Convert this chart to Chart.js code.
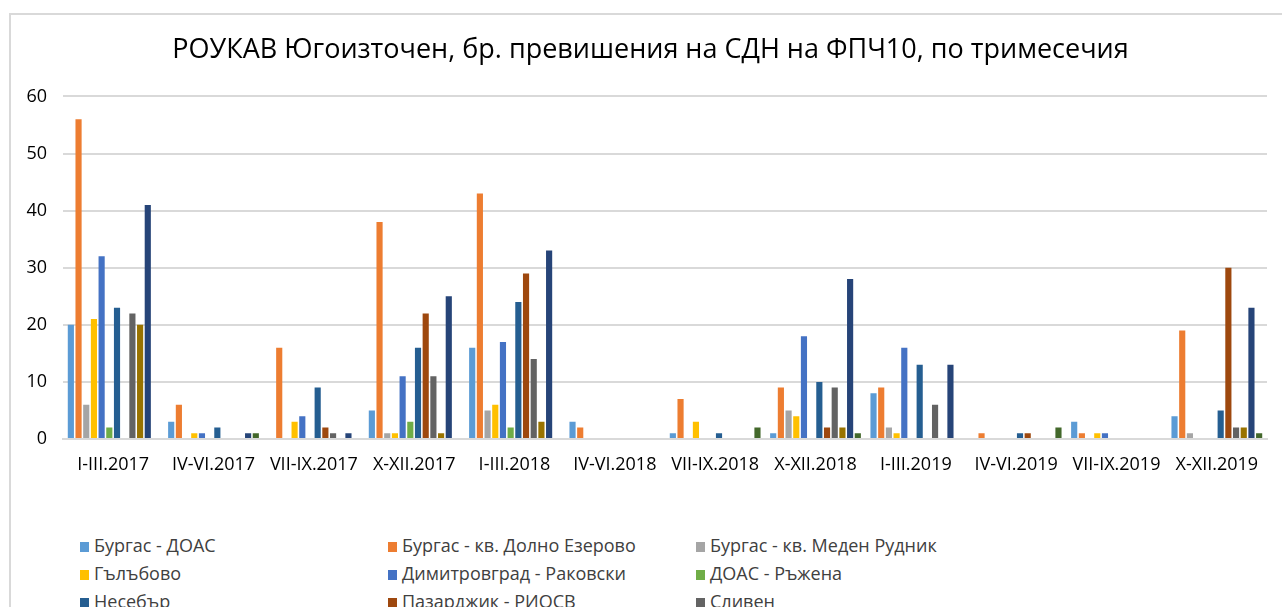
<!DOCTYPE html>
<html>
<head>
<meta charset="utf-8">
<script src="https://cdn.jsdelivr.net/npm/chart.js@4.4.0/dist/chart.umd.min.js"></script>
<style>
  body { margin: 0; background: #fff; overflow: hidden; font-family: "Open Sans", sans-serif; }
  #frame { position: absolute; left: 9px; top: 13px; width: 1400px; height: 700px; border: 2px solid #d9d9d9; }
  #wrap { position: absolute; left: 0; top: 0; width: 1282px; height: 490px; }
  #legend { position: absolute; left: 0; top: 0; }
  .item { position: absolute; font-size: 18px; color: #404040; white-space: nowrap; line-height: 20px; }
  .item span { display: inline-block; width: 9px; height: 10px; margin-right: 5px; }
</style>
</head>
<body>
<div id="frame"></div>
<div id="wrap"><canvas id="chart"></canvas></div>
<div id="legend"></div>
<script>
// кварталите по тримесечия
var quarters = ["I-III.2017", "IV-VI.2017", "VII-IX.2017", "X-XII.2017", "I-III.2018", "IV-VI.2018",
  "VII-IX.2018", "X-XII.2018", "I-III.2019", "IV-VI.2019", "VII-IX.2019", "X-XII.2019"];

var stations = ["Бургас - ДОАС", "Бургас - кв. Долно Езерово", "Бургас - кв. Меден Рудник",
  "Гълъбово", "Димитровград - Раковски", "ДОАС - Ръжена", "Несебър", "Пазарджик - РИОСВ",
  "Сливен", "Стара Загора", "Хасково", "Ямбол"];

var colors = ["#5B9BD5", "#ED7D31", "#A5A5A5", "#FFC000", "#4472C4", "#70AD47",
  "#255E91", "#9E480E", "#636363", "#997300", "#264478", "#43682B"];

// брой превишения, по станция
var burgasDoas     = [20, 3, 0, 5, 16, 3, 1, 1, 8, 0, 3, 4];
var dolnoEzerovo   = [56, 6, 16, 38, 43, 2, 7, 9, 9, 1, 1, 19];
var medenRudnik    = [6, 0, 0, 1, 5, 0, 0, 5, 2, 0, 0, 1];
var galabovo       = [21, 1, 3, 1, 6, 0, 3, 4, 1, 0, 1, 0];
var dimitrovgrad   = [32, 1, 4, 11, 17, 0, 0, 18, 16, 0, 1, 0];
var doasRazhena    = [2, 0, 0, 3, 2, 0, 0, 0, 0, 0, 0, 0];
var nesebar        = [23, 2, 9, 16, 24, 0, 1, 10, 13, 1, 0, 5];
var pazardzhik     = [0, 0, 2, 22, 29, 0, 0, 2, 0, 1, 0, 30];
var sliven         = [22, 0, 1, 11, 14, 0, 0, 9, 6, 0, 0, 2];
var staraZagora    = [20, 0, 0, 1, 3, 0, 0, 2, 0, 0, 0, 2];
var haskovo        = [41, 1, 1, 25, 33, 0, 0, 28, 13, 0, 0, 23];
var yambol         = [0, 1, 0, 0, 0, 0, 2, 1, 0, 2, 0, 1];

var series = [burgasDoas, dolnoEzerovo, medenRudnik, galabovo, dimitrovgrad, doasRazhena,
  nesebar, pazardzhik, sliven, staraZagora, haskovo, yambol];

var datasets = [];
for (let i = 0; i < series.length; i++) {
  datasets.push({
    label: stations[i],
    data: series[i],
    backgroundColor: colors[i],
    borderWidth: 0,
    categoryPercentage: 0.92,
    barPercentage: 0.8,
  });
}

// заглавието е малко вдясно от центъра на платното
const titleShift = {
  id: "titleShift",
  afterLayout(chart) {
    if (chart.titleBlock) {
      chart.titleBlock.left += 17;
      chart.titleBlock.right += 17;
    }
  },
};

const config = {
  type: "bar",
  data: { labels: quarters, datasets: datasets },
  options: {
    responsive: true,
    maintainAspectRatio: false,
    animation: false,
    layout: { padding: { left: 0, right: 15, top: 0, bottom: 0 } },
    plugins: {
      legend: { display: false },
      tooltip: { enabled: false },
      title: {
        display: true,
        text: "РОУКАВ Югоизточен, бр. превишения на СДН на ФПЧ10, по тримесечия",
        color: "#000",
        font: { family: "Open Sans", size: 27, weight: "normal" },
        padding: { top: 34, bottom: 30 },
      },
    },
    scales: {
      x: {
        grid: { display: false, drawTicks: false },
        border: { display: true, color: "#d9d9d9", width: 2 },
        ticks: { color: "#000", font: { family: "Open Sans", size: 18 }, padding: 15, maxRotation: 0 },
        afterFit: function (s) { s.height = 51; },
      },
      y: {
        min: 0,
        max: 60,
        ticks: { stepSize: 10, color: "#000", font: { family: "Open Sans", size: 18 }, padding: 16 },
        grid: { color: "#d9d9d9", lineWidth: 2, drawTicks: false },
        border: { display: false },
        afterFit: function (s) { s.width = 63; },
      },
    },
  },
  plugins: [titleShift],
};

var chart = new Chart(document.getElementById("chart"), config);

// легенда в три колони
var legend = document.getElementById("legend");
var colX = [80, 388, 696];
var rowY = [535, 563, 591, 619];
datasets.forEach(function (ds, i) {
  var d = document.createElement("div");
  d.className = "item";
  d.style.left = colX[i % 3] + "px";
  d.style.top = rowY[Math.floor(i / 3)] + "px";
  d.innerHTML = '<span style="background:' + ds.backgroundColor + '"></span>' + ds.label;
  legend.appendChild(d);
});
</script>
</body>
</html>
